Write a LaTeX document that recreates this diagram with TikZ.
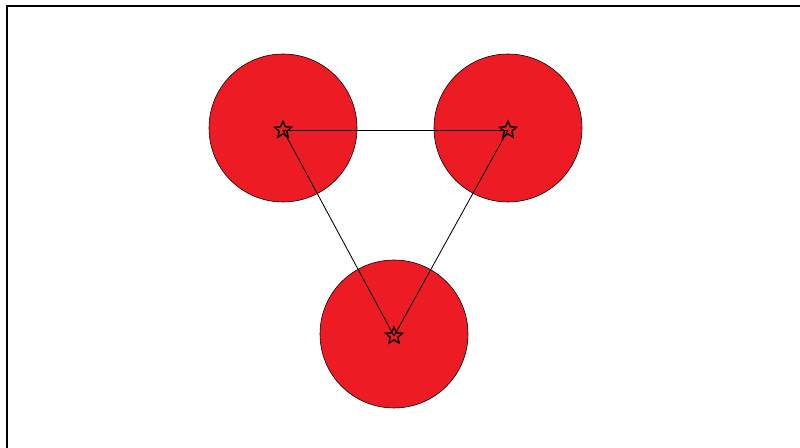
\documentclass[tikz,border=0pt]{standalone}
\usepackage{xcolor}
\usetikzlibrary{shapes.geometric}
\definecolor{discred}{HTML}{ED1C24}
\tikzset{
  disc/.style={fill=discred, draw=black, thin},
  pin/.style={star, star points=5, star point ratio=2.2, draw=black, line width=1pt, minimum size=0.44cm, inner sep=0pt}
}
\begin{document}
\begin{tikzpicture}
  \useasboundingbox (0, 0) rectangle (20, 11.2);
  \draw[line width=1.2pt] (0.175, 0) -- (0.175, 11.05) -- (20, 11.05);
  \draw[disc] (7.075, 8.0) circle (1.85);
  \draw[disc] (12.7, 8.0) circle (1.85);
  \draw[disc] (9.85, 2.85) circle (1.85);
  \node[pin] (a) at (7.075, 7.95) {};
  \node[pin] (b) at (12.7, 7.95) {};
  \node[pin] (c) at (9.85, 2.8) {};
  \draw[semithick] (a.center) -- (b.center);
  \draw[semithick] (a.center) -- (c.center);
  \draw[semithick] (b.center) -- (c.center);
\end{tikzpicture}
\end{document}
